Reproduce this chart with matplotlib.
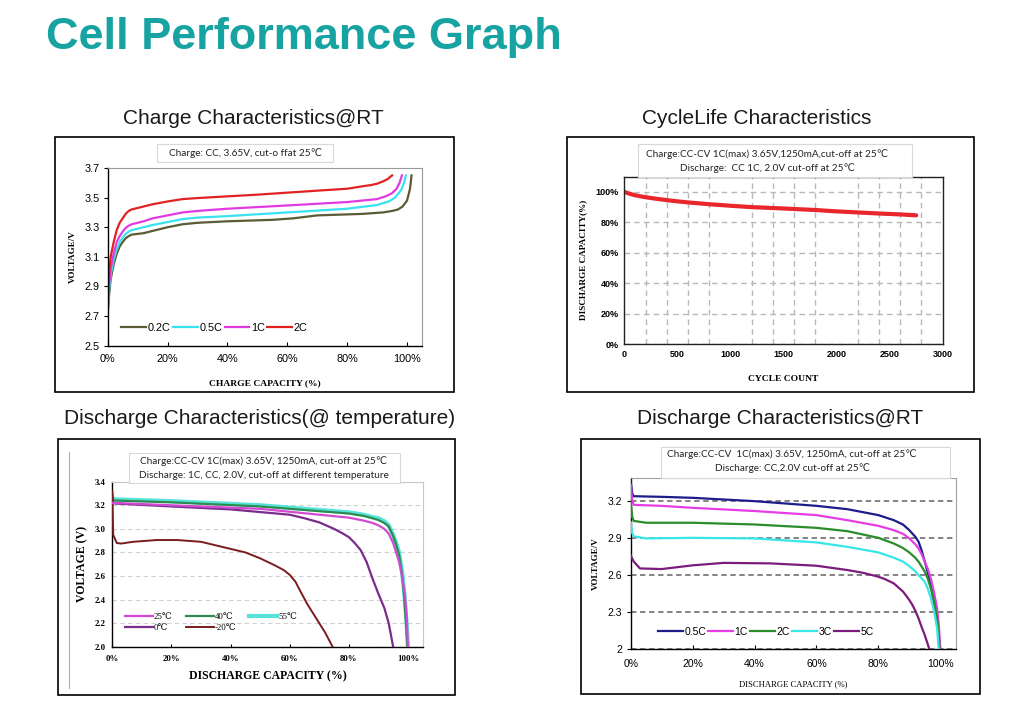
import matplotlib
matplotlib.use("Agg")
import matplotlib.pyplot as plt
from matplotlib.patches import Rectangle
from matplotlib.lines import Line2D
from matplotlib.ticker import FuncFormatter, MultipleLocator

# ---------------------------------------------------------------------------
# Data
# ---------------------------------------------------------------------------
# Charge characteristics @RT  (capacity %, voltage V)
chg_02c_x = [0, 0.5, 1, 2, 3, 4, 5, 6, 7, 8, 10, 12, 15, 20, 25, 30, 40, 55, 62, 70, 85,
             92, 95, 97, 98.5, 100, 101, 101.5]
chg_02c_y = [2.72, 2.85, 2.95, 3.05, 3.12, 3.17, 3.20, 3.225, 3.24, 3.25, 3.255, 3.26, 3.275,
             3.30, 3.32, 3.33, 3.34, 3.35, 3.36, 3.38, 3.39, 3.40, 3.41, 3.42, 3.44, 3.48,
             3.56, 3.65]
chg_05c_x = [0, 0.5, 1, 2, 3, 4, 5, 6, 7, 8, 10, 12, 15, 20, 25, 30, 40, 60, 80, 90, 94,
             96, 98, 99, 99.6]
chg_05c_y = [2.72, 2.88, 2.98, 3.08, 3.15, 3.20, 3.23, 3.255, 3.27, 3.28, 3.29, 3.30, 3.315,
             3.335, 3.355, 3.365, 3.375, 3.40, 3.425, 3.45, 3.475, 3.50, 3.55, 3.60, 3.65]
chg_1c_x = [0, 0.5, 1, 2, 3, 4, 5, 6, 7, 8, 10, 12, 15, 20, 25, 30, 40, 60, 80, 90, 93, 95,
            96.5, 97.5, 98.3]
chg_1c_y = [2.75, 2.92, 3.02, 3.12, 3.20, 3.24, 3.27, 3.295, 3.31, 3.32, 3.33, 3.34, 3.36,
            3.38, 3.40, 3.41, 3.425, 3.447, 3.47, 3.49, 3.51, 3.53, 3.56, 3.60, 3.65]
chg_2c_x = [0, 0.5, 1, 2, 3, 4, 5, 6, 7, 8, 10, 12, 15, 20, 25, 30, 50, 70, 80, 85, 88, 90,
            92, 93.5, 95]
chg_2c_y = [2.80, 3.00, 3.10, 3.20, 3.28, 3.33, 3.36, 3.39, 3.41, 3.42, 3.43, 3.44, 3.455,
            3.474, 3.49, 3.497, 3.52, 3.547, 3.56, 3.576, 3.585, 3.594, 3.61, 3.625, 3.65]
chg_labels = ["0.2C", "0.5C", "1C", "2C"]
chg_colors = ["#5b5b35", "#38e2f0", "#e23ae2", "#e22222"]

# Cycle life (cycles, discharge capacity %)
cyc_x = [0, 50, 100, 200, 300, 400, 500, 600, 800, 1000, 1200, 1500, 1800, 2000, 2200, 2400,
         2600, 2750]
cyc_y = [100, 98.8, 97.8, 96.5, 95.5, 94.6, 93.8, 93.1, 91.9, 90.9, 90.0, 89.1, 88.1, 87.2,
         86.5, 85.8, 85.2, 84.6]

# Discharge at temperature (capacity %, voltage V)
t55_x = [0, 1, 20, 50, 80, 85, 88, 90, 92, 93.5, 95, 96, 97, 98, 98.8, 99.5, 100]
t55_y = [3.26, 3.25, 3.235, 3.20, 3.14, 3.12, 3.10, 3.09, 3.065, 3.03, 2.95, 2.88, 2.80,
         2.64, 2.45, 2.22, 2.0]
t40_x = [0, 1, 20, 50, 80, 85, 88, 90, 92, 93.5, 95, 96, 97, 98, 98.7, 99.3, 99.8]
t40_y = [3.245, 3.24, 3.225, 3.19, 3.13, 3.11, 3.09, 3.075, 3.05, 3.02, 2.94, 2.87, 2.78,
         2.62, 2.43, 2.22, 2.0]
t25_x = [0, 1, 20, 50, 80, 85, 88, 90, 92, 93.5, 95, 96, 97, 98, 99, 99.6, 100]
t25_y = [3.22, 3.22, 3.20, 3.17, 3.095, 3.07, 3.05, 3.03, 3.00, 2.96, 2.88, 2.80, 2.72,
         2.60, 2.44, 2.25, 2.0]
t0_x = [0, 0.3, 1, 20, 40, 60, 65, 70, 75, 78, 80, 82, 84, 86, 88, 90, 92, 93.5, 95]
t0_y = [3.30, 3.22, 3.215, 3.19, 3.165, 3.12, 3.09, 3.055, 3.00, 2.96, 2.93, 2.88, 2.82,
        2.72, 2.58, 2.45, 2.33, 2.20, 2.0]
tm20_x = [0, 0.3, 1.5, 3, 7, 15, 22, 30, 40, 45, 50, 55, 58, 60, 62, 63, 64.5, 66, 68, 70,
          72, 74.5]
tm20_y = [3.32, 2.95, 2.88, 2.875, 2.89, 2.905, 2.905, 2.89, 2.83, 2.80, 2.75, 2.69, 2.65,
          2.61, 2.55, 2.50, 2.43, 2.36, 2.28, 2.20, 2.12, 2.0]
temp_labels = ["25℃", "40℃", "55℃", "0℃", "-20℃"]
temp_colors = ["#d24ad2", "#2e8b50", "#55e4da", "#7a2c8c", "#7a1c1c"]

# Discharge @RT by rate (capacity %, voltage V)
r05_x = [0, 0.5, 1, 10, 20, 40, 60, 70, 80, 85, 88, 90, 92, 93, 94, 95, 96, 97, 98, 99,
         99.6, 100]
r05_y = [3.36, 3.26, 3.24, 3.235, 3.227, 3.20, 3.162, 3.135, 3.087, 3.046, 3.01, 2.965,
         2.91, 2.871, 2.80, 2.71, 2.62, 2.52, 2.38, 2.22, 2.10, 2.0]
r1_x = [0, 0.5, 1, 10, 20, 40, 60, 70, 80, 85, 88, 90, 92, 93, 94, 95, 96, 97, 98, 99,
        99.6, 100]
r1_y = [3.33, 3.20, 3.17, 3.162, 3.146, 3.12, 3.087, 3.046, 3.0, 2.965, 2.935, 2.898, 2.85,
        2.817, 2.77, 2.71, 2.65, 2.57, 2.46, 2.33, 2.18, 2.0]
r2_x = [0, 0.5, 1, 5, 20, 40, 60, 70, 80, 85, 88, 90, 92, 93, 94, 95, 96, 97, 98, 99,
        99.5, 99.8]
r2_y = [3.20, 3.07, 3.04, 3.025, 3.025, 3.011, 2.984, 2.957, 2.903, 2.857, 2.82, 2.785, 2.74,
        2.71, 2.67, 2.63, 2.57, 2.49, 2.39, 2.25, 2.12, 2.0]
r3_x = [0, 0.5, 1, 5, 20, 40, 60, 70, 80, 85, 88, 90, 92, 93, 94, 95, 96, 97, 98, 99,
        99.5]
r3_y = [3.03, 2.94, 2.915, 2.898, 2.903, 2.898, 2.866, 2.83, 2.785, 2.742, 2.71, 2.674, 2.63,
        2.60, 2.575, 2.547, 2.49, 2.413, 2.31, 2.17, 2.0]
r5_x = [0, 1, 3, 10, 20, 30, 45, 60, 70, 75, 80, 82, 85, 88, 90, 91, 92, 93, 94, 95, 96.5]
r5_y = [2.76, 2.71, 2.655, 2.65, 2.68, 2.70, 2.696, 2.677, 2.642, 2.62, 2.588, 2.57, 2.534,
        2.467, 2.40, 2.36, 2.31, 2.25, 2.18, 2.116, 2.0]
rate_labels = ["0.5C", "1C", "2C", "3C", "5C"]
rate_colors = ["#1c1c8a", "#e63ce6", "#2a8c2a", "#38e6e6", "#7c1c7c"]

pct_ticks = [0, 20, 40, 60, 80, 100]

# ---------------------------------------------------------------------------
# Layout helpers (pixel boxes on a 1026x720 canvas)
# ---------------------------------------------------------------------------
W, H = 1026, 720
SANS = ["Liberation Sans", "DejaVu Sans"]
SERIF = ["Liberation Serif", "DejaVu Serif"]
NOTE = ["Lato", "DejaVu Sans"]

fig = plt.figure(figsize=(W / 100, H / 100), dpi=100)
fig.patch.set_facecolor("white")


def rect(l, t, r, b):
    return [l / W, 1 - b / H, (r - l) / W, (b - t) / H]


def fx(x):
    return x / W


def fy(y):
    return 1 - y / H


def frame(l, t, r, b, lw=1.2, ec="black"):
    fig.patches.append(Rectangle((fx(l), fy(b)), (r - l) / W, (b - t) / H, fill=False,
                                 ec=ec, lw=lw, transform=fig.transFigure))


def note_box(l, t, r, b, lines, ys, cx=None, size=7.2):
    fig.patches.append(Rectangle((fx(l), fy(b)), (r - l) / W, (b - t) / H, fc="white",
                                 ec="#d8d8d8", lw=0.8, transform=fig.transFigure, zorder=5))
    cx = (l + r) / 2 if cx is None else cx
    for txt, y in zip(lines, ys):
        fig.text(fx(cx), fy(y), txt, ha="center", va="center", fontsize=size,
                 family=NOTE, color="#222222", zorder=6)


def style_spines(ax, dark=("left", "bottom"), light_color="#9a9a9a"):
    for name, sp in ax.spines.items():
        if name in dark:
            sp.set_color("black")
            sp.set_linewidth(1.0)
        else:
            sp.set_color(light_color)
            sp.set_linewidth(0.8)


# Title
fig.text(fx(46), fy(38), "Cell Performance Graph", fontsize=32.5, fontweight="bold",
         family=SANS, color="#16a3a1", ha="left", va="center")

# Sub titles
sub_kw = dict(fontsize=15, family=SANS, color="#1a1a1a", ha="center", va="center")
fig.text(fx(253), fy(118), "Charge Characteristics@RT", **sub_kw)
fig.text(fx(757), fy(118), "CycleLife Characteristics", **sub_kw)
fig.text(fx(260), fy(418), "Discharge Characteristics(@ temperature)", **sub_kw)
fig.text(fx(780), fy(418), "Discharge Characteristics@RT", **sub_kw)

# Outer frames
frame(55, 137, 454, 392)
frame(567, 137, 974, 392)
frame(58, 439, 455, 695)
frame(581, 439, 980, 694)
fig.lines.append(Line2D([fx(69), fx(69)], [fy(452), fy(688)], color="#b0b0b0", lw=0.8,
                        transform=fig.transFigure))

pct_fmt = FuncFormatter(lambda v, p: f"{v:.0f}%")

# ---------------------------------------------------------------------------
# Panel 1: charge characteristics
# ---------------------------------------------------------------------------
ax1 = fig.add_axes(rect(107.7, 168, 422, 345.7))
for xs, ys, lab, col in zip([chg_02c_x, chg_05c_x, chg_1c_x, chg_2c_x],
                            [chg_02c_y, chg_05c_y, chg_1c_y, chg_2c_y], chg_labels, chg_colors):
    ax1.plot(xs, ys, color=col, lw=1.6, label=lab)
ax1.set_xlim(0, 105)
ax1.set_ylim(2.5, 3.7)
ax1.set_xticks(pct_ticks)
ax1.xaxis.set_major_formatter(pct_fmt)
ax1.set_yticks([2.5, 2.7, 2.9, 3.1, 3.3, 3.5, 3.7])
ax1.yaxis.set_major_formatter(FuncFormatter(lambda v, p: f"{v:.1f}"))
ax1.tick_params(axis="x", direction="in", length=3, labelsize=7.8, pad=6)
ax1.tick_params(axis="y", direction="out", length=3, labelsize=7.8, pad=3)
for lab in ax1.get_xticklabels() + ax1.get_yticklabels():
    lab.set_family(SANS)
style_spines(ax1)
ax1.set_xlabel("CHARGE CAPACITY (%)", family=SERIF, fontweight="bold", fontsize=6.8,
               labelpad=11)
ax1.set_ylabel("VOLTAGE/V", family=SERIF, fontweight="bold", fontsize=6.5, labelpad=5)
ax1.legend(loc="center left", bbox_to_anchor=(0.03, 0.1), ncol=4, frameon=False,
           prop={"family": SANS, "size": 7.8}, handlelength=2.3, handletextpad=0.15,
           columnspacing=0.2, borderaxespad=0)
note_box(157, 144, 333, 162, ["Charge: CC, 3.65V, cut-o ffat 25℃"], [153])

# ---------------------------------------------------------------------------
# Panel 2: cycle life
# ---------------------------------------------------------------------------
ax2 = fig.add_axes(rect(624.3, 176.7, 942.7, 344))
ax2.plot(cyc_x, cyc_y, color="#e8262b", lw=3, solid_capstyle="round")
ax2.set_xlim(0, 3000)
ax2.set_ylim(0, 110)
ax2.set_xticks([0, 500, 1000, 1500, 2000, 2500, 3000])
ax2.set_yticks([0, 20, 40, 60, 80, 100])
ax2.yaxis.set_major_formatter(pct_fmt)
ax2.xaxis.set_minor_locator(MultipleLocator(200))
ax2.grid(which="minor", axis="x", color="#b8b8b8", ls=(0, (4, 3)), lw=1.0)
ax2.grid(which="major", axis="y", color="#b8b8b8", ls=(0, (4, 3)), lw=1.0)
ax2.tick_params(which="both", length=0, labelsize=6.5, pad=4)
for lab in ax2.get_xticklabels() + ax2.get_yticklabels():
    lab.set_family(SANS)
    lab.set_fontweight("bold")
for sp in ax2.spines.values():
    sp.set_color("#222222")
    sp.set_linewidth(1.0)
ax2.set_xlabel("CYCLE COUNT", family=SERIF, fontweight="bold", fontsize=6.8, labelpad=12)
ax2.set_ylabel("DISCHARGE CAPACITY(%)", family=SERIF, fontweight="bold", fontsize=6.6,
               labelpad=6)
note_box(638, 144, 912, 177,
         ["Charge:CC-CV 1C(max) 3.65V,1250mA,cut-off at 25℃",
          "Discharge:  CC 1C, 2.0V cut-off at 25℃"], [154, 168], cx=767)

# ---------------------------------------------------------------------------
# Panel 3: discharge at different temperature
# ---------------------------------------------------------------------------
ax3 = fig.add_axes(rect(112.3, 481.7, 422.7, 646.7))
temp_x = [t25_x, t40_x, t55_x, t0_x, tm20_x]
temp_y = [t25_y, t40_y, t55_y, t0_y, tm20_y]
temp_lw = [1.6, 1.6, 3.0, 1.6, 1.4]
temp_z = [4, 3, 2, 3, 3]
lines3 = []
for xs, ys, lab, col, lw, z in zip(temp_x, temp_y, temp_labels, temp_colors, temp_lw, temp_z):
    ln, = ax3.plot(xs, ys, color=col, lw=lw, label=lab, zorder=z)
    lines3.append(ln)
ax3.set_xlim(0, 105)
ax3.set_ylim(2.0, 3.4)
ax3.set_xticks(pct_ticks)
ax3.xaxis.set_major_formatter(pct_fmt)
ax3.set_yticks([2.0, 2.2, 2.4, 2.6, 2.8, 3.0, 3.2, 3.4])
ax3.yaxis.set_major_formatter(FuncFormatter(lambda v, p: f"{v:.1f}"))
ax3.grid(axis="y", color="#d0d0d0", ls=(0, (4, 3)), lw=0.8)
ax3.tick_params(axis="x", direction="in", length=2.5, labelsize=6.3, pad=6)
ax3.tick_params(axis="y", length=0, labelsize=6.3, pad=5)
for lab in ax3.get_xticklabels() + ax3.get_yticklabels():
    lab.set_family(SERIF)
    lab.set_fontweight("bold")
style_spines(ax3, light_color="#c8c8c8")
ax3.set_xlabel("DISCHARGE CAPACITY (%)", family=SERIF, fontweight="bold", fontsize=8.5,
               labelpad=5)
ax3.set_ylabel("VOLTAGE (V)", family=SERIF, fontweight="bold", fontsize=8.5, labelpad=4)
order = [0, 3, 1, 4, 2]
ax3.legend([lines3[i] for i in order], [temp_labels[i] for i in order],
           loc="upper left", bbox_to_anchor=(0.03, 0.225), ncol=3, frameon=False,
           prop={"family": SERIF, "size": 6.3}, handlelength=3.2, handletextpad=0.1,
           columnspacing=1.5, labelspacing=0.3, borderaxespad=0)
note_box(129, 453, 400, 483,
         ["Charge:CC-CV 1C(max) 3.65V, 1250mA, cut-off at 25℃",
          "Discharge: 1C, CC, 2.0V, cut-off at different temperature"], [461, 476], cx=264)

# ---------------------------------------------------------------------------
# Panel 4: discharge by rate @RT
# ---------------------------------------------------------------------------
ax4 = fig.add_axes(rect(630.7, 477.7, 955.7, 649.3))
rate_x = [r05_x, r1_x, r2_x, r3_x, r5_x]
rate_y = [r05_y, r1_y, r2_y, r3_y, r5_y]
for xs, ys, lab, col in zip(rate_x, rate_y, rate_labels, rate_colors):
    ax4.plot(xs, ys, color=col, lw=1.6, label=lab, zorder=3)
ax4.set_xlim(0, 105)
ax4.set_ylim(2.0, 3.39)
ax4.set_xticks(pct_ticks)
ax4.xaxis.set_major_formatter(pct_fmt)
ax4.set_yticks([2.0, 2.3, 2.6, 2.9, 3.2])
ax4.yaxis.set_major_formatter(FuncFormatter(lambda v, p: f"{v:g}"))
ax4.grid(axis="y", color="#7a7a7a", ls=(0, (3, 2)), lw=1.3, zorder=1)
ax4.tick_params(axis="x", direction="in", length=3, labelsize=7.5, pad=7)
ax4.tick_params(axis="y", direction="out", length=3, labelsize=7.5, pad=3)
for lab in ax4.get_xticklabels() + ax4.get_yticklabels():
    lab.set_family(SANS)
style_spines(ax4, light_color="#a0a0a0")
ax4.set_xlabel("DISCHARGE CAPACITY (%)", family=SERIF, fontsize=6.2, labelpad=8)
ax4.set_ylabel("VOLTAGE/V", family=SERIF, fontweight="bold", fontsize=6.5, labelpad=6)
ax4.legend(loc="center left", bbox_to_anchor=(0.07, 0.1), ncol=5, frameon=False,
           prop={"family": SANS, "size": 7.5}, handlelength=2.4, handletextpad=0.15,
           columnspacing=0.2, borderaxespad=0)
note_box(661, 447, 950, 478,
         ["Charge:CC-CV  1C(max) 3.65V, 1250mA, cut-off at 25℃",
          "Discharge: CC,2.0V cut-off at 25℃"], [454, 468], cx=792)

fig.savefig("out.png", dpi=100, facecolor="white")
